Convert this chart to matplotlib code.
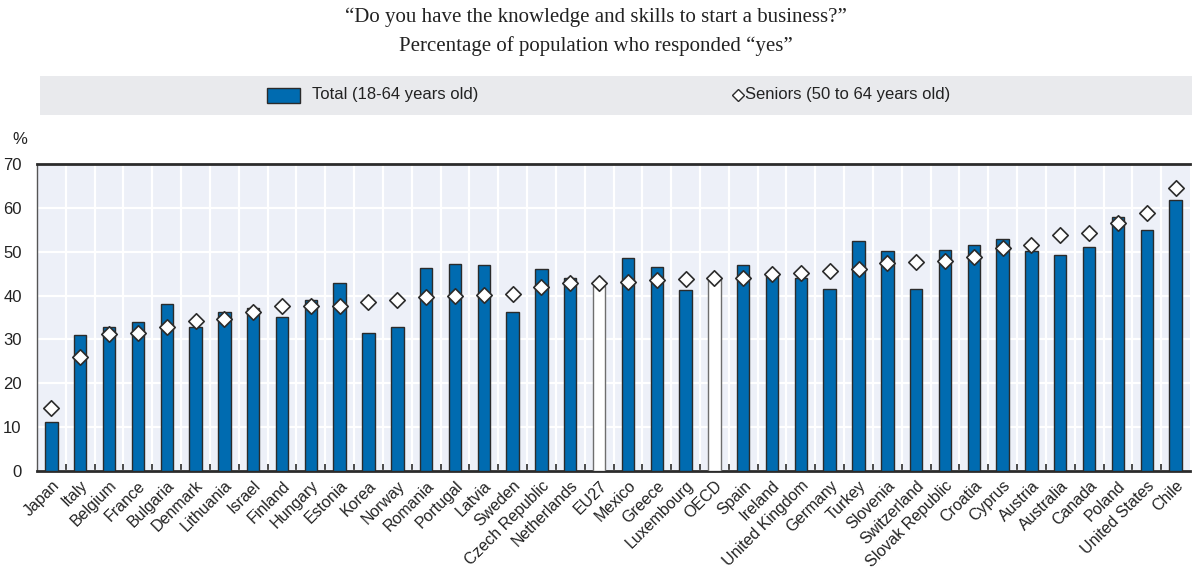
import matplotlib
matplotlib.use("Agg")
import matplotlib.pyplot as plt
from matplotlib.lines import Line2D
from matplotlib.patches import Rectangle
from matplotlib import font_manager
import numpy as np

countries = ["Japan", "Italy", "Belgium", "France", "Bulgaria", "Denmark", "Lithuania",
             "Israel", "Finland", "Hungary", "Estonia", "Korea", "Norway", "Romania",
             "Portugal", "Latvia", "Sweden", "Czech Republic", "Netherlands", "EU27",
             "Mexico", "Greece", "Luxembourg", "OECD", "Spain", "Ireland", "United Kingdom",
             "Germany", "Turkey", "Slovenia", "Switzerland", "Slovak Republic", "Croatia",
             "Cyprus", "Austria", "Australia", "Canada", "Poland", "United States", "Chile"]
total = [11.2, 31.0, 32.9, 34.0, 38.0, 32.8, 36.3, 37.1, 35.2, 38.9, 42.8, 31.5, 32.8, 46.2,
         47.2, 47.0, 36.3, 46.0, 44.1, 42.1, 48.6, 46.6, 41.3, 43.8, 47.0, 44.7, 44.0,
         41.4, 52.5, 50.1, 41.5, 50.4, 51.6, 52.8, 50.1, 49.3, 51.1, 57.9, 55.0, 61.9]
seniors = [14.3, 26.1, 31.3, 31.5, 32.9, 34.3, 34.7, 36.3, 37.6, 37.6, 37.7, 38.5, 39.0, 39.6,
           40.0, 40.1, 40.4, 41.9, 42.8, 42.8, 43.0, 43.6, 43.7, 44.0, 44.1, 44.9, 45.2,
           45.6, 46.1, 47.4, 47.6, 47.8, 48.7, 50.9, 51.5, 53.8, 54.2, 56.5, 58.8, 64.5]
aggregates = ["EU27", "OECD"]
legend_labels = ["Total (18-64 years old)", "Seniors (50 to 64 years old)"]

BLUE = "#006BB0"
BG = "#EDF0F8"
EDGE = "#2B2B2B"
TXT = "#222222"

installed = {f.name for f in font_manager.fontManager.ttflist}
sans = ["Liberation Sans Narrow", "Liberation Sans", "DejaVu Sans"]
sans = [f for f in sans if f in installed] or ["DejaVu Sans"]
narrow = sans[0] == "Liberation Sans Narrow"
plt.rcParams["font.family"] = sans

W, H = 1192, 570
fig = plt.figure(figsize=(W / 100, H / 100), dpi=100)
ax = fig.add_axes([37 / W, 99 / H, (1190 - 37) / W, (471 - 164) / H])

x = np.arange(len(countries))
face = ["white" if c in aggregates else BLUE for c in countries]
edges = ["#6E6E6E" if c in aggregates else EDGE for c in countries]
ax.bar(x, total, width=0.43, color=face, edgecolor=edges, linewidth=1.0, zorder=3)
ax.scatter(x, seniors, marker="D", s=62, facecolor="white", edgecolor=EDGE,
           linewidth=1.2, zorder=4)

lab_size = 13.5 if narrow else 11.5
ax.set_facecolor(BG)
ax.set_xlim(-0.5, len(countries) - 0.5)
ax.set_ylim(0, 70)
ax.set_yticks(np.arange(0, 71, 10))
ax.set_xticks(x)
ax.set_xticklabels(countries, rotation=45, ha="right", rotation_mode="anchor",
                   fontsize=lab_size, color=TXT)
ax.set_xticks(np.arange(0.5, len(countries) - 1, 1), minor=True)
ax.tick_params(axis="x", which="major", length=0, pad=5)
ax.tick_params(axis="x", which="minor", direction="in", length=5, width=1.2, color=EDGE)
ax.tick_params(axis="y", length=0, labelsize=lab_size + 0.5, pad=11, labelcolor=TXT)

ax.grid(True, axis="y", color="white", linewidth=1.6, zorder=1)
ax.grid(True, axis="x", which="minor", color="white", linewidth=1.6, zorder=1)
ax.grid(False, axis="x", which="major")
ax.set_axisbelow(True)
for side in ["top", "bottom"]:
    ax.spines[side].set_linewidth(2.0)
    ax.spines[side].set_color(EDGE)
ax.spines["left"].set_linewidth(1.0)
ax.spines["left"].set_color("#555555")
ax.spines["right"].set_visible(False)

fig.text(12 / W, 1 - 139 / H, "%", fontsize=lab_size + 0.5, va="center", ha="left", color=TXT)

serif = ["Liberation Serif", "DejaVu Serif"]
fig.text(0.5, 1 - 17 / H, "\u201cDo you have the knowledge and skills to start a business?\u201d",
         ha="center", va="center", fontsize=15, family=serif, color=TXT)
fig.text(0.5, 1 - 46 / H, "Percentage of population who responded \u201cyes\u201d",
         ha="center", va="center", fontsize=15, family=serif, color=TXT)

# Legend band with its two entries
fig.patches.append(Rectangle((40 / W, 1 - 115 / H), (W - 40) / W, 39 / H,
                             transform=fig.transFigure, facecolor="#E9EAED",
                             edgecolor="none", zorder=0))
fig.patches.append(Rectangle((267 / W, 1 - 103 / H), 33 / W, 15 / H,
                             transform=fig.transFigure, facecolor=BLUE,
                             edgecolor=EDGE, linewidth=1.0, zorder=1))
fig.text(312 / W, 1 - 95 / H, legend_labels[0], fontsize=lab_size + 0.5,
         va="center", ha="left", color=TXT)
fig.lines.append(Line2D([738 / W], [1 - 95 / H], transform=fig.transFigure, marker="D",
                        linestyle="none", markersize=6, markerfacecolor="white",
                        markeredgecolor=EDGE, markeredgewidth=1.0))
fig.text(745 / W, 1 - 95 / H, legend_labels[1], fontsize=lab_size + 0.5,
         va="center", ha="left", color=TXT)

fig.savefig("out.png", dpi=100)
